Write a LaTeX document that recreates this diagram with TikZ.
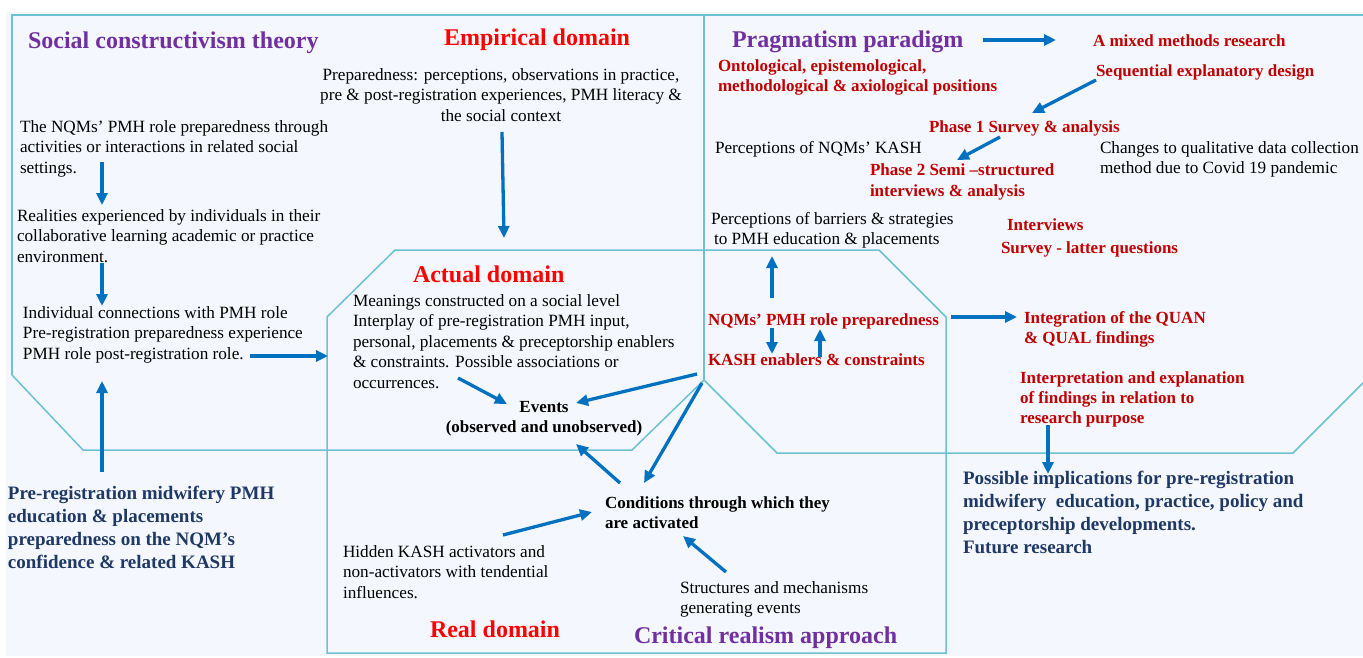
\documentclass[tikz,border=0pt]{standalone}
\usepackage{fontspec}
\setmainfont{Liberation Serif}
\usetikzlibrary{arrows.meta}
\definecolor{bg}{RGB}{244,247,253}
\definecolor{frame}{RGB}{110,193,210}
\definecolor{arr}{RGB}{0,112,192}
\definecolor{purp}{RGB}{112,48,160}
\definecolor{brightred}{RGB}{255,0,0}
\definecolor{dred}{RGB}{192,0,0}
\definecolor{navy}{RGB}{31,56,100}
\begin{document}
\begin{tikzpicture}[x=1pt,y=-1pt,
  frm/.style={draw=frame,line width=1.5pt},
  arw/.style={draw=arr,line width=3.3pt,-{Triangle[length=12pt,width=11pt]}},
  plain/.style={inner sep=0pt,outer sep=0pt},
  head/.style={plain,anchor=base west,font=\fontsize{24}{28}\selectfont\bfseries},
  body/.style={plain,anchor=north west,align=left,font=\fontsize{17.2}{20.5}\selectfont},
  rbody/.style={plain,anchor=north west,align=left,text=dred,font=\fontsize{17}{20.5}\selectfont\bfseries},
  nbody/.style={plain,anchor=north west,align=left,text=navy,font=\fontsize{19}{23}\selectfont\bfseries},
  kbody/.style={plain,anchor=north west,align=left,font=\fontsize{17}{20}\selectfont\bfseries},
]
\useasboundingbox (0,0) rectangle (1363,658);
\fill[white] (0,0) rectangle (1363,658);
\fill[bg] (6,12) rectangle (1363,656);

% frame lines
\draw[frm] (12,375) -- (12,15) -- (1363,15);
\draw[frm] (704,15) -- (704,380);
\draw[frm] (12,375) -- (83,450) -- (632,450) -- (704,380);
\draw[frm] (327,653) -- (327,317) -- (395,250) -- (879,250) -- (946,317) -- (946,653) -- cycle;
\draw[frm] (704,380) -- (777,453) -- (1293,453) -- (1363,383);

% headings
\node[head,text=purp] (hsoc) at (28,49) {Social constructivism theory};
\node[head,text=brightred] (hemp) at (444,46) {Empirical domain};
\node[head,text=purp] (hprag) at (732,48) {Pragmatism paradigm};
\node[head,text=brightred] (hact) at (413,282) {Actual domain};
\node[head,text=brightred] (hreal) at (430,637) {Real domain};
\node[head,text=purp] (hcrit) at (634,643) {Critical realism approach};

% left column
\node[body] (t1) at (20,118) {\strut The NQMs’ PMH role preparedness through\\activities or interactions in related social\\settings.};
\node[body] (t2) at (17,207) {\strut Realities experienced by individuals in their\\collaborative learning academic or practice\\environment.};
\node[body] (t3) at (23,304) {\strut Individual connections with PMH role\\Pre-registration preparedness experience\\PMH role post-registration role.};
\node[nbody] (t4) at (8,483) {\strut Pre-registration midwifery PMH\\education \& placements\\preparedness on the NQM’s\\confidence \& related KASH};

% empirical
\node[body,anchor=north,align=center] (emp) at (501,66) {\strut Preparedness: perceptions, observations in practice,\\pre \& post-registration experiences, PMH literacy \&\\the social context};

% actual
\node[body] (act) at (353,292) {\strut Meanings constructed on a social level\\Interplay of pre-registration PMH input,\\personal, placements \& preceptorship enablers\\\& constraints. Possible associations or\\occurrences.};
\node[kbody,anchor=north,align=center] (ev) at (544,398) {\strut Events\\(observed and unobserved)};

% real
\node[kbody] (cond) at (605,494) {\strut Conditions through which they\\are activated};
\node[body] (hid) at (343,543) {\strut Hidden KASH activators and\\non-activators with tendential\\influences.};
\node[body] (str) at (680,579) {\strut Structures and mechanisms\\generating events};

% pragmatism
\node[rbody] (onto) at (718,57) {\strut Ontological, epistemological,\\methodological \& axiological positions};
\node[rbody] (mix) at (1093,32) {\strut A mixed methods research};
\node[rbody] (seq) at (1096,62) {\strut Sequential explanatory design};
\node[rbody] (ph1) at (929,118) {\strut Phase 1 Survey \& analysis};
\node[body] (pk) at (715,139) {\strut Perceptions of NQMs’ KASH};
\node[rbody,font=\fontsize{17}{21}\selectfont\bfseries] (ph2) at (870,161) {\strut Phase 2 Semi –structured\\interviews \& analysis};
\node[body] (chg) at (1100,139) {\strut Changes to qualitative data collection\\method due to Covid 19 pandemic};
\node[body] (pb) at (711,210) {\strut Perceptions of barriers \& strategies\\\hspace{3pt}to PMH education \& placements};
\node[rbody] (intv) at (1007,216) {\strut Interviews};
\node[rbody] (surv) at (1001,239) {\strut Survey - latter questions};
\node[rbody] (nqm) at (708,311) {\strut NQMs’ PMH role preparedness};
\node[rbody] (kash) at (708,351) {\strut KASH enablers \& constraints};
\node[rbody] (integ) at (1024,309) {\strut Integration of the QUAN\\\& QUAL findings};
\node[rbody,font=\fontsize{17}{20}\selectfont\bfseries] (interp) at (1020,369) {\strut Interpretation and explanation\\of findings in relation to\\research purpose};
\node[nbody] (poss) at (963,468) {\strut Possible implications for pre-registration\\midwifery\ \ education, practice, policy and\\preceptorship developments.\\Future research};

% arrow end points
\coordinate (a1s) at (102,162); \coordinate (a1e) at (102,205);
\coordinate (a2s) at (102,263); \coordinate (a2e) at (102,306);
\coordinate (a3s) at (250,356); \coordinate (a3e) at (328,356);
\coordinate (a4s) at (102,472); \coordinate (a4e) at (102,381);
\coordinate (a5s) at (502,132); \coordinate (a5e) at (504,238);
\coordinate (a6s) at (458,378); \coordinate (a6e) at (507,404);
\coordinate (a7s) at (697,374); \coordinate (a7e) at (576,403);
\coordinate (a8s) at (702,383); \coordinate (a8e) at (644,483);
\coordinate (a9s) at (620,483); \coordinate (a9e) at (576,444);
\coordinate (a10s) at (503,535); \coordinate (a10e) at (592,512);
\coordinate (a11s) at (726,572); \coordinate (a11e) at (683,536);
\coordinate (a12s) at (772,298); \coordinate (a12e) at (772,256);
\coordinate (a13s) at (772,328); \coordinate (a13e) at (772,354);
\coordinate (a14s) at (820,357); \coordinate (a14e) at (820,329);
\coordinate (a15s) at (951,317); \coordinate (a15e) at (1017,317);
\coordinate (a16s) at (983,40); \coordinate (a16e) at (1056,40);
\coordinate (a17s) at (1096,80); \coordinate (a17e) at (1032,113);
\coordinate (a18s) at (1000,137); \coordinate (a18e) at (957,160);
\coordinate (a19s) at (1048,425); \coordinate (a19e) at (1048,474);

\foreach \i in {1,...,19}{\draw[arw] (a\i s) -- (a\i e);}
\end{tikzpicture}
\end{document}
